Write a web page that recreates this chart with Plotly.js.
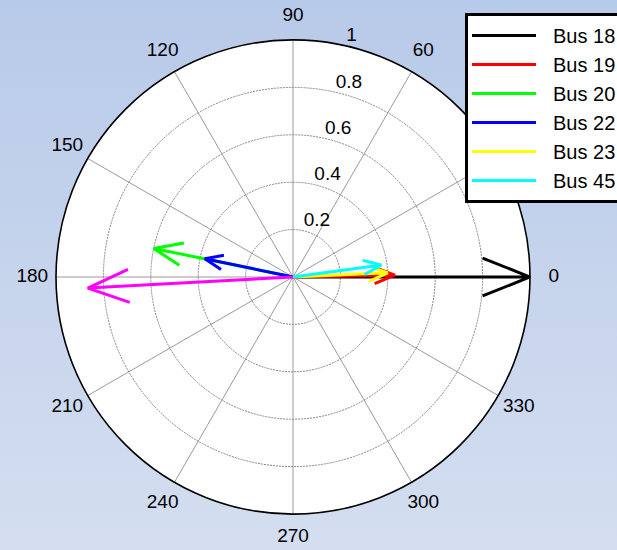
<!DOCTYPE html>
<html>
<head>
<meta charset="utf-8">
<script src="https://cdn.plot.ly/plotly-3.0.1.min.js"></script>
<style>
html,body{margin:0;padding:0;}
body{width:617px;height:550px;background:linear-gradient(to bottom,#b8cae9,#d4def0);overflow:hidden;}
#chart{width:617px;height:550px;}
</style>
</head>
<body>
<div id="chart"></div>
<script>
// Data (phasors: magnitude, angle in degrees)
const busNames   = ["Bus 18", "Bus 19", "Bus 20", "Bus 22", "Bus 23", "Bus 45", "Other"];
const magnitudes = [1.00, 0.43, 0.60, 0.38, 0.40, 0.376, 0.867];
const anglesDeg  = [0, 1, 168.4, 168.3, 2.5, 7.7, 183.1];
const inLegend   = [true, true, true, true, true, true, false];
const radialTicks = [0.2, 0.4, 0.6, 0.8, 1];
const radialTickText = ["0.2", "0.4", "0.6", "0.8", "1"];
const angularTicks = [0, 30, 60, 90, 120, 150, 180, 210, 240, 270, 300, 330];

// Styles
const lineColors = ["#000000", "#ff0000", "#00ff00", "#0000ff", "#ffff00", "#00ffff", "#ff00ff"];
const font = "Arial, 'Liberation Sans', sans-serif";
const labelRadius = 1.1;      // MATLAB puts angle labels at 1.1 * rmax
const radialLabelAngle = 77;  // direction along which ring labels are placed

// MATLAB compass arrow shape: z * [0, 1, 0.8+0.08i, 1, 0.8-0.08i]
const headScale = Math.hypot(0.8, 0.08);
const headAngle = Math.atan2(0.08, 0.8) * 180 / Math.PI;

const traces = busNames.map((name, i) => {
  const m = magnitudes[i], a = anglesDeg[i];
  return {
    type: "scatterpolar",
    mode: "lines",
    name: name,
    showlegend: inLegend[i],
    r: [0, m, m * headScale, m, m * headScale],
    theta: [a, a, a + headAngle, a, a - headAngle],
    line: {color: lineColors[i], width: 3},
    hoverinfo: "skip"
  };
});

// Ring labels
traces.push({
  type: "scatterpolar", mode: "text", showlegend: false, hoverinfo: "skip",
  r: radialTicks, theta: radialTicks.map(() => radialLabelAngle),
  text: radialTickText, textposition: "top right",
  textfont: {family: font, size: 19, color: "#000"}, cliponaxis: false
});
// Angular labels (MATLAB style, centred at 1.1*rmax) on a concentric, 1.1x larger hidden polar
traces.push({
  type: "scatterpolar", subplot: "polar2", mode: "text", showlegend: false, hoverinfo: "skip",
  r: angularTicks.map(() => 1), theta: angularTicks,
  text: angularTicks.map(String), textposition: "middle center",
  textfont: {family: font, size: 19, color: "#000"}, cliponaxis: false
});

const W = 617, H = 550, cx = 293, cy = 277, R = 237;
const R2 = R * labelRadius;
const layout = {
  width: W, height: H,
  paper_bgcolor: "rgba(0,0,0,0)",
  plot_bgcolor: "rgba(0,0,0,0)",
  margin: {l: 0, r: 0, t: 0, b: 0, autoexpand: false},
  font: {family: font, size: 19, color: "#000"},
  showlegend: true,
  legend: {
    x: 465 / W, y: 1 - 13 / H, xanchor: "left", yanchor: "top",
    bgcolor: "#ffffff", bordercolor: "#000000", borderwidth: 3,
    font: {family: font, size: 20, color: "#000"},
    itemwidth: 75, tracegroupgap: 0
  },
  polar: {
    domain: {x: [(cx - R) / W, (cx + R) / W], y: [(H - cy - R) / H, (H - cy + R) / H]},
    bgcolor: "#ffffff",
    radialaxis: {
      range: [0, 1],
      tickvals: radialTicks,
      showline: false, ticks: "", showticklabels: false,
      gridcolor: "#858585", griddash: "2px,1px", gridwidth: 1
    },
    angularaxis: {
      rotation: 0, direction: "counterclockwise",
      tickvals: angularTicks, showticklabels: false, ticks: "",
      showline: true, linecolor: "#000", linewidth: 1.6,
      gridcolor: "#808080", gridwidth: 0.8
    }
  },
  polar2: {
    domain: {x: [(cx - R2) / W, (cx + R2) / W], y: [(H - cy - R2) / H, (H - cy + R2) / H]},
    bgcolor: "rgba(0,0,0,0)",
    radialaxis: {range: [0, 1], visible: false, showgrid: false, showline: false},
    angularaxis: {
      rotation: 0, direction: "counterclockwise",
      showgrid: false, showline: false, showticklabels: false, ticks: ""
    }
  }
};

Plotly.newPlot("chart", traces, layout, {displayModeBar: false, staticPlot: true}).then(gd => {
  // MATLAB-style longer legend line samples
  gd.querySelectorAll(".legend .legendlines path").forEach(p => {
    p.setAttribute("d", "M4,0h64");
  });
});
</script>
</body>
</html>
